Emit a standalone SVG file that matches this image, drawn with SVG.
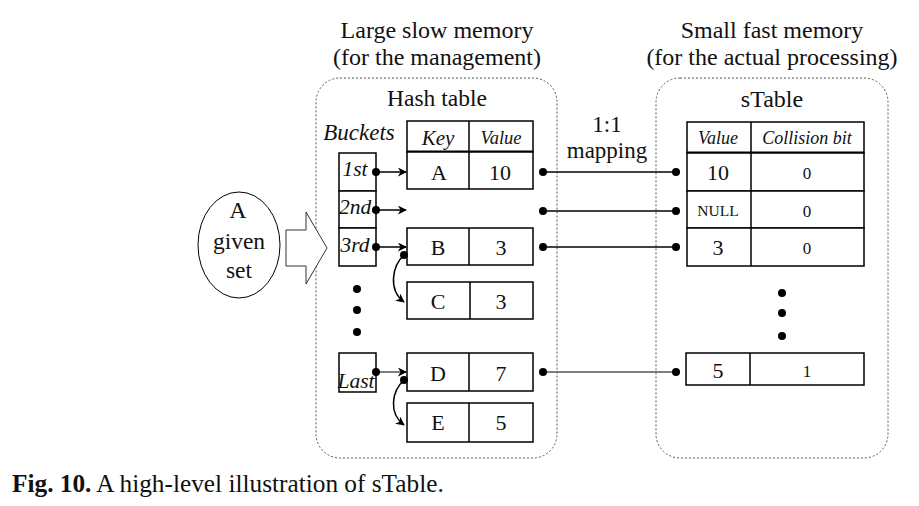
<svg xmlns="http://www.w3.org/2000/svg" width="919" height="506" viewBox="0 0 919 506">
<defs>
<style>
text{font-family:"Liberation Serif","Times New Roman",serif;fill:#111;}
.c{text-anchor:middle;}
.i{font-style:italic;}
.box{fill:none;stroke:#555;stroke-width:1;stroke-dasharray:2,2;}
.cell{fill:#fff;stroke:#000;stroke-width:1.5;}
.hl{stroke:#000;stroke-width:3;}
.ln{stroke:#000;stroke-width:1.5;fill:none;}
.dot{fill:#000;}
</style>
<marker id="ah" viewBox="0 0 10 10" refX="9" refY="5" markerWidth="9" markerHeight="9" markerUnits="userSpaceOnUse" orient="auto">
<path d="M0,0 L10,5 L0,10 L3,5 Z" fill="#000"/>
</marker>
</defs>
<rect width="919" height="506" fill="#fff"/>

<g id="titles">
<text x="437" y="38" class="c" font-size="24">Large slow memory</text>
<text x="437" y="65" class="c" font-size="24">(for the management)</text>
<text x="772" y="38" class="c" font-size="24">Small fast memory</text>
<text x="772" y="65" class="c" font-size="24">(for the actual processing)</text>
</g>

<g id="slow-memory">
<rect x="316" y="78" width="241" height="380" rx="24" class="box"/>
<text x="437" y="106" class="c" font-size="23.5">Hash table</text>
<text x="359" y="140" class="c i" font-size="23">Buckets</text>
</g>

<g id="fast-memory">
<rect x="656" y="78" width="232" height="380" rx="24" class="box"/>
<text x="772" y="107" class="c" font-size="24">sTable</text>
</g>

<g id="given-set">
<ellipse cx="239" cy="245" rx="41" ry="53" fill="#fff" stroke="#000" stroke-width="1"/>
<text x="238" y="218" class="c" font-size="24">A</text>
<text x="239" y="249" class="c" font-size="23.5">given</text>
<text x="239" y="278" class="c" font-size="23.5">set</text>
</g>

<g id="input-arrow">
<polygon points="286,230 306,230 306,212 327,248 306,284 306,266 286,266" fill="#fff" stroke="#333" stroke-width="1"/>
</g>

<g id="buckets">
<rect x="339" y="153" width="37" height="38" class="cell"/>
<rect x="339" y="191" width="37" height="37" class="cell"/>
<rect x="339" y="228" width="37" height="38" class="cell"/>
<text x="355" y="176" class="c i" font-size="21.5">1st</text>
<text x="355" y="214" class="c i" font-size="21.5">2nd</text>
<text x="355" y="252" class="c i" font-size="21.5">3rd</text>
<circle cx="357" cy="289" r="4" class="dot"/>
<circle cx="357" cy="310" r="4" class="dot"/>
<circle cx="357" cy="332" r="4" class="dot"/>
<rect x="339" y="353" width="37" height="39" class="cell"/>
<text x="356" y="388" class="c i" font-size="21.5">Last</text>
</g>

<g id="hash-header">
<rect x="407" y="121" width="126" height="31" class="cell"/>
<line x1="469" y1="121" x2="469" y2="152" class="ln"/>
<line x1="407" y1="152" x2="533" y2="152" class="hl"/>
<text x="438" y="145" class="c i" font-size="21">Key</text>
<text x="501" y="144" class="c i" font-size="18.5">Value</text>
</g>

<g id="hash-row-A">
<rect x="407" y="152" width="126" height="37" class="cell"/>
<line x1="469" y1="152" x2="469" y2="189" class="ln"/>
<text x="439" y="180" class="c" font-size="22">A</text>
<text x="500" y="180" class="c" font-size="22">10</text>
</g>

<g id="hash-row-B">
<rect x="407" y="228" width="126" height="37" class="cell"/>
<line x1="469" y1="228" x2="469" y2="265" class="ln"/>
<text x="438" y="255" class="c" font-size="22">B</text>
<text x="501" y="255" class="c" font-size="22">3</text>
</g>

<g id="hash-row-C">
<rect x="407" y="282" width="126" height="37" class="cell"/>
<line x1="470" y1="282" x2="470" y2="319" class="ln"/>
<text x="438" y="309" class="c" font-size="22">C</text>
<text x="501" y="309" class="c" font-size="22">3</text>
</g>

<g id="hash-row-D">
<rect x="407" y="353" width="126" height="38" class="cell"/>
<line x1="469" y1="353" x2="469" y2="391" class="ln"/>
<text x="438" y="381" class="c" font-size="22">D</text>
<text x="501" y="381" class="c" font-size="22">7</text>
</g>

<g id="hash-row-E">
<rect x="407" y="403" width="126" height="39" class="cell"/>
<line x1="469" y1="403" x2="469" y2="442" class="ln"/>
<text x="438" y="430" class="c" font-size="22">E</text>
<text x="501" y="430" class="c" font-size="22">5</text>
</g>

<g id="mapping-label">
<text x="607" y="132" class="c" font-size="23">1:1</text>
<text x="607" y="158" class="c" font-size="23">mapping</text>
</g>

<g id="stable-header">
<rect x="687" y="122" width="177" height="31" class="cell"/>
<line x1="751" y1="122" x2="751" y2="153" class="ln"/>
<line x1="687" y1="153" x2="864" y2="153" class="hl"/>
<text x="718" y="144" class="c i" font-size="18">Value</text>
<text x="807" y="144" class="c i" font-size="18">Collision bit</text>
</g>

<g id="stable-rows">
<rect x="687" y="153" width="177" height="38" class="cell"/>
<rect x="687" y="191" width="177" height="37" class="cell"/>
<rect x="687" y="228" width="177" height="38" class="cell"/>
<line x1="751" y1="153" x2="751" y2="266" class="ln"/>
<text x="718" y="180" class="c" font-size="22">10</text>
<text x="807" y="179" class="c" font-size="17">0</text>
<text x="718" y="216" class="c" font-size="15.5">NULL</text>
<text x="807" y="217" class="c" font-size="17">0</text>
<text x="718" y="255" class="c" font-size="22">3</text>
<text x="807" y="254" class="c" font-size="17">0</text>
<circle cx="782" cy="293" r="4" class="dot"/>
<circle cx="782" cy="313" r="4" class="dot"/>
<circle cx="782" cy="336" r="4" class="dot"/>
</g>

<g id="stable-row-last">
<rect x="686" y="353" width="178" height="32" class="cell"/>
<line x1="750" y1="353" x2="750" y2="385" class="ln"/>
<text x="718" y="378" class="c" font-size="22">5</text>
<text x="807" y="377" class="c" font-size="17">1</text>
</g>

<g id="connectors">
<line x1="376" y1="172" x2="406" y2="172" class="ln" marker-end="url(#ah)"/>
<circle cx="376" cy="172" r="4" class="dot"/>
<line x1="376" y1="210" x2="406" y2="210" class="ln" marker-end="url(#ah)"/>
<circle cx="376" cy="210" r="4" class="dot"/>
<line x1="376" y1="247" x2="406" y2="247" class="ln" marker-end="url(#ah)"/>
<circle cx="376" cy="247" r="4" class="dot"/>
<line x1="376" y1="372" x2="406" y2="372" class="ln" marker-end="url(#ah)" style="stroke:#555"/>
<circle cx="376" cy="372" r="4" class="dot"/>
<path d="M404,255 C392,266 388,290 404,302" class="ln" marker-end="url(#ah)"/>
<circle cx="404" cy="255" r="4" class="dot"/>
<path d="M404,380 C392,391 388,413 404,425" class="ln" marker-end="url(#ah)"/>
<circle cx="404" cy="380" r="4" class="dot"/>
<line x1="543" y1="172" x2="676" y2="172" class="ln"/>
<circle cx="543" cy="172" r="4" class="dot"/>
<circle cx="676" cy="172" r="4" class="dot"/>
<line x1="543" y1="211" x2="676" y2="211" class="ln"/>
<circle cx="543" cy="211" r="4" class="dot"/>
<circle cx="676" cy="211" r="4" class="dot"/>
<line x1="543" y1="247" x2="676" y2="247" class="ln"/>
<circle cx="543" cy="247" r="4" class="dot"/>
<circle cx="676" cy="247" r="4" class="dot"/>
<line x1="543" y1="372" x2="676" y2="372" class="ln" style="stroke:#555"/>
<circle cx="543" cy="372" r="4" class="dot"/>
<circle cx="676" cy="372" r="4" class="dot"/>
</g>

<g id="caption">
<text x="12" y="492" font-size="25.3"><tspan font-weight="bold">Fig. 10.</tspan> A high-level illustration of sTable.</text>
</g>
</svg>
